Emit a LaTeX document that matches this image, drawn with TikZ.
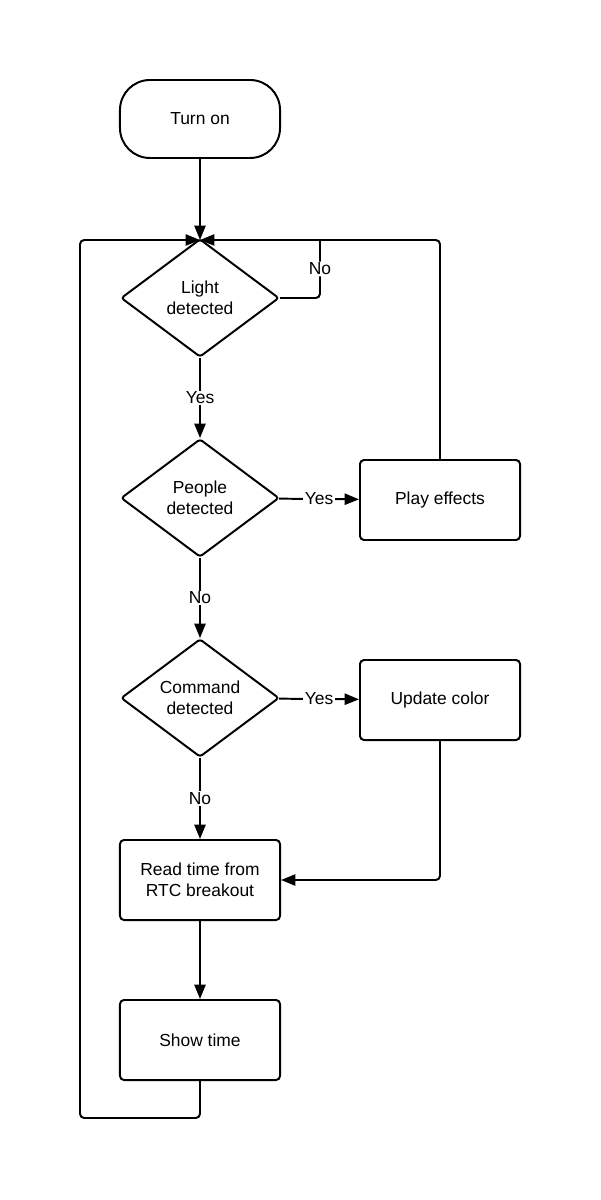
\documentclass[tikz,border=0pt]{standalone}
\usepackage{fontspec}
\setmainfont{Liberation Sans}
\usetikzlibrary{shapes.geometric,arrows.meta}

\begin{document}
\begin{tikzpicture}[x=0.025cm,y=-0.025cm,line width=1.4pt,
    >={Triangle[length=3.6mm,width=2.8mm]},
    font=\fontsize{12.4}{15}\selectfont]
            \useasboundingbox (0,0) rectangle (600,1200);
            \begin{scope}[every node/.style={draw,rounded corners=0.1cm,align=center,minimum width=4cm,minimum height=2cm}]
                \node[rounded corners=0.75cm,minimum height=1.95cm] (1) at (200,119) {Turn on};
                \node (5) at (200,880) {Read time from\\RTC breakout};
                \node (6) at (200,1040) {Show time};
                \node (7) at (440,500) {Play effects};
                \node (8) at (440,700) {Update color};
            \end{scope}
            \begin{scope}[every node/.style={draw,diamond,rounded corners=2pt,align=center,inner sep=1pt,aspect=1.34,minimum width=3.95cm,minimum height=2.95cm}]
                \node (2) at (200,298) {Light\\detected};
                \node (3) at (200,498) {People\\detected};
                \node (4) at (200,698) {Command\\detected};
            \end{scope}

            \coordinate (top) at (200,240);
            \coordinate (a) at (80,1118);
            \coordinate (b) at (320,240);

            \begin{scope}[every edge/.style={draw,->}, every node/.style={fill=white,inner sep=1pt}]
                \path
                    (1) edge (top)
                    (2) edge node {Yes} (3)
                    (3) edge node {No} (4)
                    (4) edge node {No} (5)
                    (3) edge node {Yes} (7)
                    (4) edge node {Yes} (8)
                    (5) edge (6);
            \end{scope}

            \draw[->,rounded corners=3pt] (7.north) |- (top);
            \draw[->,rounded corners=3pt] (6.south) |- (a) |- (top);
            \draw[->,rounded corners=3pt] (8.south) |- (5.east);
            \draw[rounded corners=3pt] (2.east) -| node[pos=0.75,fill=white,inner sep=1pt] {No} (b);
        \end{tikzpicture}
\end{document}
